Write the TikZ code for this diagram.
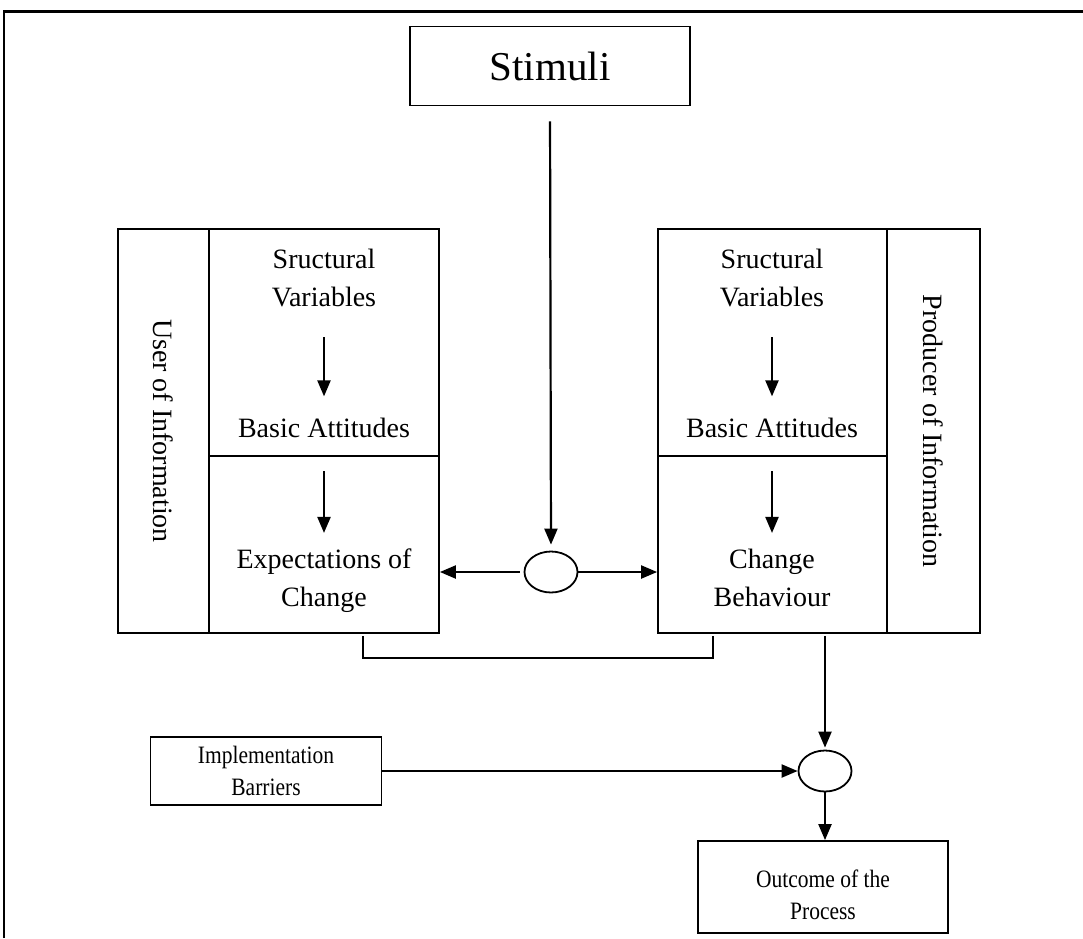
\documentclass[tikz,border=0pt]{standalone}
\usepackage{fontspec}
\setmainfont{Liberation Serif}
\newfontfamily\narrowserif[FakeStretch=0.86]{Liberation Serif}
\usetikzlibrary{arrows.meta,shapes.geometric}
\tikzset{
  cell/.style={draw, line width=1.8pt, inner sep=0pt},
  txt/.style={inner sep=0pt, align=center, font=\fontsize{28}{38}\selectfont},
  small/.style={inner sep=0pt, align=center, font=\narrowserif\fontsize{25}{32}\selectfont},
  junction/.style={draw, ellipse, line width=1.8pt, inner sep=0pt, minimum width=53pt, minimum height=41pt},
  arr/.style={line width=2.2pt, -{Triangle[length=16pt,width=13pt]}},
  link/.style={line width=1.8pt}
}
\begin{document}
\begin{tikzpicture}[x=1pt,y=-1pt]
  \useasboundingbox (0,0) rectangle (1083,938);
  % Frame
  \draw[line width=2pt] (4,938) -- (4,11);
  \draw[line width=3pt] (3,11) -- (1083,11);
  % Stimuli
  \node[cell, minimum width=280pt, minimum height=79pt, font=\fontsize{41}{48}\selectfont] (stimuli) at (550,66) {Stimuli};
  \node[junction] (midL) at (551,572) {};
  % User of Information
  \node[cell, minimum width=91pt, minimum height=404pt] (userlbl) at (163.5,431) {};
  \node[txt, rotate=-90] (user) at (userlbl.center) {User of Information};
  \node[cell, minimum width=230pt, minimum height=227pt] (upL) at (324,342.5) {};
  \node[cell, minimum width=230pt, minimum height=177pt] (lowL) at (324,544.5) {};
  \node[txt] (svL) at (324,278) {Sructural\\Variables};
  \node[txt, anchor=base] (baL) at (324,437) {Basic Attitudes};
  \node[txt] (ecL) at (324,581) {Expectations of\\Change};
  % Producer of Information
  \node[cell, minimum width=229pt, minimum height=227pt] (upR) at (772.5,342.5) {};
  \node[cell, minimum width=229pt, minimum height=177pt] (lowR) at (772.5,544.5) {};
  \node[cell, minimum width=93pt, minimum height=404pt] (prodlbl) at (933.5,431) {};
  \node[txt, rotate=-90] (prod) at (prodlbl.center) {Producer of Information};
  \node[txt] (svR) at (772,278) {Sructural\\Variables};
  \node[txt, anchor=base] (baR) at (772,437) {Basic Attitudes};
  \node[txt] (cbR) at (772,578) {Change\\Behaviour};
  % Bottom part
  \node[junction] (midR) at (825,771) {};
  \node[cell, minimum width=231pt, minimum height=68pt, small] (barrier) at (266,771) {Implementation\\Barriers};
  \node[cell, minimum width=250pt, minimum height=92pt] (outcome) at (823,887) {};
  \node[small] (outtxt) at (823,895) {Outcome of the\\Process};
  \coordinate (brL) at (363,636);
  \coordinate (brR) at (713,636);
  % Arrows
  \draw[arr, shorten <=15pt, shorten >=6pt] (stimuli.south) -- (midL.north);
  \draw[arr, shorten <=4pt] (midL.west) -- (midL.west -| lowL.east);
  \draw[arr] (midL.east) -- (midL.east -| lowR.west);
  \draw[arr, shorten <=30pt, shorten >=21pt] (svL.south) -- (baL.north);
  \draw[arr, shorten <=34pt, shorten >=16pt] (baL.south) -- (ecL.north);
  \draw[arr, shorten <=30pt, shorten >=21pt] (svR.south) -- (baR.north);
  \draw[arr, shorten <=34pt, shorten >=16pt] (baR.south) -- (cbR.north);
  \draw[link] (brL) -- ++(0,22) -| (brR);
  \draw[arr, shorten <=2pt, shorten >=2pt] (lowR.south -| midR.north) -- (midR.north);
  \draw[arr] (barrier.east) -- (midR.west);
  \draw[arr] (midR.south) -- (midR.south |- outcome.north);
\end{tikzpicture}
\end{document}
